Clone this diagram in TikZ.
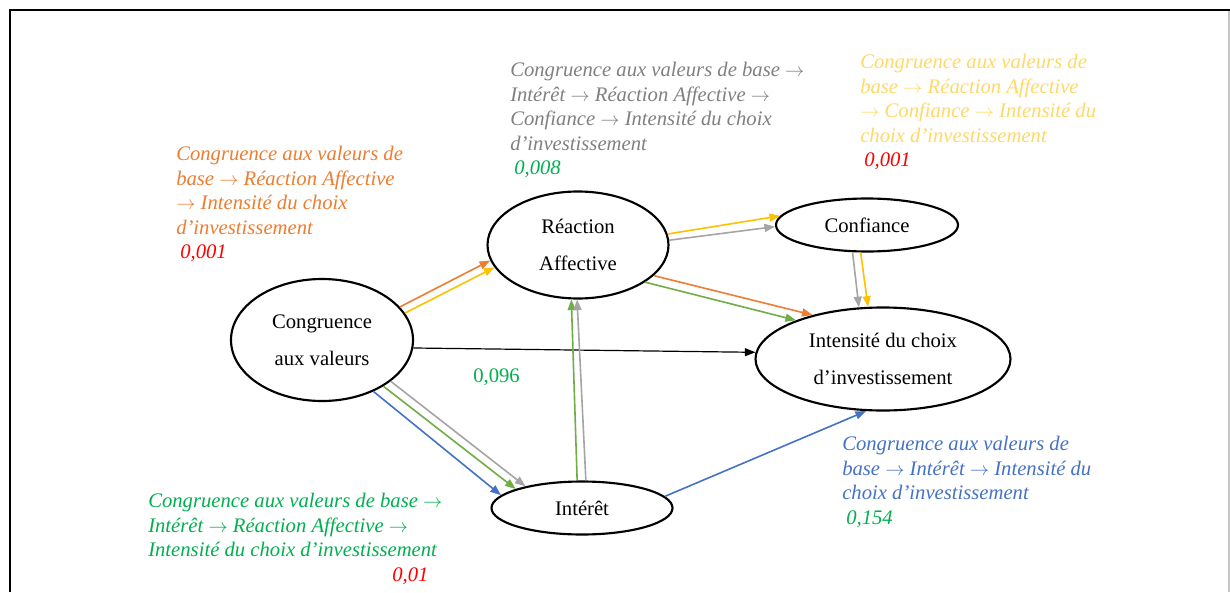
\documentclass[tikz,border=0pt]{standalone}
\usepackage{fontspec}
\setmainfont{Liberation Serif}
\usetikzlibrary{shapes.geometric,arrows.meta}
\definecolor{cOrange}{HTML}{ED7D31}
\definecolor{cYellow}{HTML}{FFC000}
\definecolor{cGray}{HTML}{A5A5A5}
\definecolor{cGreenA}{HTML}{70AD47}
\definecolor{cBlue}{HTML}{4472C4}
\definecolor{cGrayT}{HTML}{808080}
\definecolor{cYellowT}{HTML}{FFD966}
\definecolor{cGreenT}{HTML}{00B050}
\definecolor{cRed}{HTML}{FF0000}
\newcommand{\rarr}{$\rightarrow$}
\tikzset{
  ell/.style={draw, ellipse, line width=1.6pt, inner sep=0pt, align=center,
    font=\fontsize{15.5pt}{27.75pt}\selectfont},
  lbl/.style={anchor=north west, inner sep=0pt, align=left,
    font=\fontsize{15.5pt}{18.4pt}\selectfont\itshape},
  arr/.style={line width=1.2pt, -{Triangle[length=8pt,width=6pt]}},
}
\begin{document}
\begin{tikzpicture}[x=0.75pt,y=-0.75pt]
\useasboundingbox (0,0) rectangle (1230,592);
\fill[white] (0,0) rectangle (1230,592);
% frame
\draw[gray!45, line width=0.8pt] (1229,10) -- (1229,592);
\draw[line width=1.8pt] (10,592) -- (10,10) -- (1230,10);

% nodes
\node[ell, minimum width=136.5pt, minimum height=91.5pt] (cong) at (322,340) {Congruence\\aux valeurs};
\node[ell, minimum width=135.75pt, minimum height=80.25pt] (react) at (578,245) {Réaction\\Affective};
\node[ell, minimum width=136.5pt, minimum height=39.75pt] (conf) at (867,225) {Confiance};
\node[ell, minimum width=191.25pt, minimum height=77.25pt] (inten) at (883,359) {Intensité du choix\\d’investissement};
\node[ell, minimum width=135.75pt, minimum height=39.75pt] (inter) at (582,508) {Intérêt};

% arrows
\draw[arr, cOrange] (cong.23.6) -- (react.190);
\draw[arr, cYellow] (cong.18) -- (react.195.5);
\draw[arr, cYellow] (react.7) -- (conf.174);
\draw[arr, cGray] (react.3) -- (conf.181);
\draw[arr, cGray] (conf.242.6) -- (inten.115.7);
\draw[arr, cYellow] (conf.257.5) -- (inten.106);
\draw[arr, cOrange] (react.338.6) -- (inten.148.8);
\draw[arr, cGreenA] (react.331.8) -- (inten.156);
\draw[arr, black, line width=0.9pt] (cong.355.8) -- (inten.177.8);
\draw[arr, cBlue] (cong.315) -- (inter.171);
\draw[arr, cGreenA] (cong.323) -- (inter.164.5);
\draw[arr, cGray] (cong.329.5) -- (inter.159.6);
\draw[arr, cGreenA] (inter.100) -- (react.263.8);
\draw[arr, cGray] (inter.82.6) -- (react.269);
\draw[arr, cBlue] (inter.8) -- (inten.252.8);

% labels
\node[lbl, text=cOrange] (lorange) at (176,146) {Congruence aux valeurs de\\base \rarr\ Réaction Affective\\\rarr\ Intensité du choix\\d’investissement\\\hspace*{3pt}\textcolor{cRed}{0,001}};
\node[lbl, text=cGrayT] (lgray) at (510,62) {Congruence aux valeurs de base \rarr\\Intérêt \rarr\ Réaction Affective \rarr\\Confiance \rarr\ Intensité du choix\\d’investissement\\\hspace*{3pt}\textcolor{cGreenT}{0,008}};
\node[lbl, text=cYellowT] (lyellow) at (860,54) {Congruence aux valeurs de\\base \rarr\ Réaction Affective\\\rarr\ Confiance \rarr\ Intensité du\\choix d’investissement\\\hspace*{3pt}\textcolor{cRed}{0,001}};
\node[lbl, text=cBlue] (lblue) at (842,436) {Congruence aux valeurs de\\base \rarr\ Intérêt \rarr\ Intensité du\\choix d’investissement\\\hspace*{3pt}\textcolor{cGreenT}{0,154}};
\node[lbl, text=cGreenT] (lgreen) at (148,493) {Congruence aux valeurs de base \rarr\\Intérêt \rarr\ Réaction Affective \rarr\\Intensité du choix d’investissement\\\hspace*{183pt}\textcolor{cRed}{0,01}};
\node[anchor=base west, inner sep=0pt, font=\fontsize{15.5pt}{18pt}\selectfont, text=cGreenT] (n096) at (473,382) {0,096};
\end{tikzpicture}
\end{document}
